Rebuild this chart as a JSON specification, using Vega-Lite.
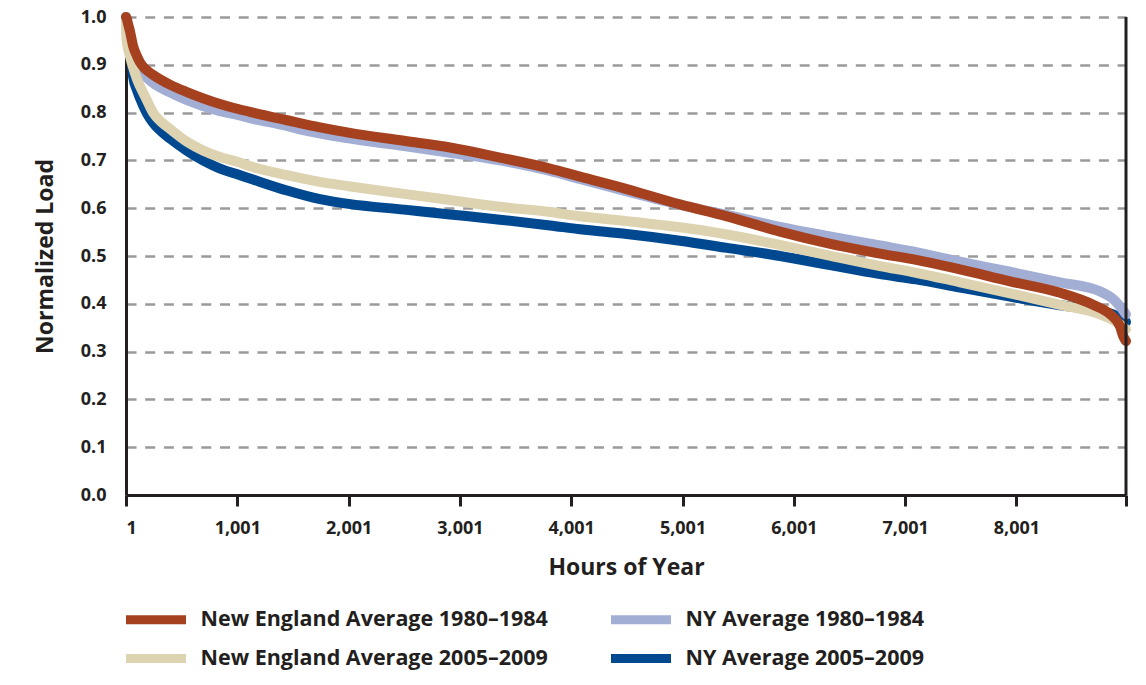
{
  "$schema": "https://vega.github.io/schema/vega-lite/v6.json",
  "autosize": {"type": "none"},
  "width": 1000,
  "height": 478,
  "padding": {"left": 126, "top": 17, "right": 20, "bottom": 190},
  "background": "white",
  "config": {
    "font": "Open Sans",
    "view": {"stroke": null},
    "axis": {"labelColor": "#231f20", "titleColor": "#231f20", "labelFont": "Open Sans", "titleFont": "Open Sans", "labelFontWeight": "bold", "titleFontWeight": "bold"}
  },
  "datasets": {
    "curves": [
      {"series": "NY Average 2005–2009", "hour": 1, "load": 1.0},
      {"series": "NY Average 2005–2009", "hour": 20, "load": 0.975},
      {"series": "NY Average 2005–2009", "hour": 40, "load": 0.94},
      {"series": "NY Average 2005–2009", "hour": 55, "load": 0.9},
      {"series": "NY Average 2005–2009", "hour": 64, "load": 0.876},
      {"series": "NY Average 2005–2009", "hour": 100, "load": 0.847},
      {"series": "NY Average 2005–2009", "hour": 127, "load": 0.83},
      {"series": "NY Average 2005–2009", "hour": 190, "load": 0.798},
      {"series": "NY Average 2005–2009", "hour": 244, "load": 0.779},
      {"series": "NY Average 2005–2009", "hour": 320, "load": 0.76},
      {"series": "NY Average 2005–2009", "hour": 400, "load": 0.745},
      {"series": "NY Average 2005–2009", "hour": 549, "load": 0.72},
      {"series": "NY Average 2005–2009", "hour": 700, "load": 0.699},
      {"series": "NY Average 2005–2009", "hour": 846, "load": 0.683},
      {"series": "NY Average 2005–2009", "hour": 1001, "load": 0.671},
      {"series": "NY Average 2005–2009", "hour": 1142, "load": 0.66},
      {"series": "NY Average 2005–2009", "hour": 1448, "load": 0.637},
      {"series": "NY Average 2005–2009", "hour": 1744, "load": 0.619},
      {"series": "NY Average 2005–2009", "hour": 2001, "load": 0.609},
      {"series": "NY Average 2005–2009", "hour": 2500, "load": 0.597},
      {"series": "NY Average 2005–2009", "hour": 2912, "load": 0.587},
      {"series": "NY Average 2005–2009", "hour": 3361, "load": 0.576},
      {"series": "NY Average 2005–2009", "hour": 3810, "load": 0.564},
      {"series": "NY Average 2005–2009", "hour": 4080, "load": 0.556},
      {"series": "NY Average 2005–2009", "hour": 4500, "load": 0.546},
      {"series": "NY Average 2005–2009", "hour": 4978, "load": 0.532},
      {"series": "NY Average 2005–2009", "hour": 5400, "load": 0.517},
      {"series": "NY Average 2005–2009", "hour": 5877, "load": 0.5},
      {"series": "NY Average 2005–2009", "hour": 6300, "load": 0.482},
      {"series": "NY Average 2005–2009", "hour": 6775, "load": 0.462},
      {"series": "NY Average 2005–2009", "hour": 7100, "load": 0.451},
      {"series": "NY Average 2005–2009", "hour": 7494, "load": 0.434},
      {"series": "NY Average 2005–2009", "hour": 7943, "load": 0.415},
      {"series": "NY Average 2005–2009", "hour": 8393, "load": 0.397},
      {"series": "NY Average 2005–2009", "hour": 8700, "load": 0.387},
      {"series": "NY Average 2005–2009", "hour": 8869, "load": 0.378},
      {"series": "NY Average 2005–2009", "hour": 8940, "load": 0.37},
      {"series": "NY Average 2005–2009", "hour": 8985, "load": 0.362},

      {"series": "NY Average 1980–1984", "hour": 1, "load": 1.0},
      {"series": "NY Average 1980–1984", "hour": 10, "load": 0.98},
      {"series": "NY Average 1980–1984", "hour": 30, "load": 0.945},
      {"series": "NY Average 1980–1984", "hour": 64, "load": 0.915},
      {"series": "NY Average 1980–1984", "hour": 110, "load": 0.895},
      {"series": "NY Average 1980–1984", "hour": 244, "load": 0.862},
      {"series": "NY Average 1980–1984", "hour": 400, "load": 0.842},
      {"series": "NY Average 1980–1984", "hour": 549, "load": 0.826},
      {"series": "NY Average 1980–1984", "hour": 846, "load": 0.803},
      {"series": "NY Average 1980–1984", "hour": 1001, "load": 0.795},
      {"series": "NY Average 1980–1984", "hour": 1142, "load": 0.787},
      {"series": "NY Average 1980–1984", "hour": 1448, "load": 0.772},
      {"series": "NY Average 1980–1984", "hour": 1564, "load": 0.765},
      {"series": "NY Average 1980–1984", "hour": 2001, "load": 0.746},
      {"series": "NY Average 1980–1984", "hour": 2500, "load": 0.73},
      {"series": "NY Average 1980–1984", "hour": 2912, "load": 0.716},
      {"series": "NY Average 1980–1984", "hour": 3361, "load": 0.7},
      {"series": "NY Average 1980–1984", "hour": 3810, "load": 0.678},
      {"series": "NY Average 1980–1984", "hour": 4080, "load": 0.661},
      {"series": "NY Average 1980–1984", "hour": 4500, "load": 0.635},
      {"series": "NY Average 1980–1984", "hour": 4978, "load": 0.607},
      {"series": "NY Average 1980–1984", "hour": 5400, "load": 0.586},
      {"series": "NY Average 1980–1984", "hour": 5877, "load": 0.561},
      {"series": "NY Average 1980–1984", "hour": 6300, "load": 0.542},
      {"series": "NY Average 1980–1984", "hour": 6775, "load": 0.522},
      {"series": "NY Average 1980–1984", "hour": 7100, "load": 0.508},
      {"series": "NY Average 1980–1984", "hour": 7494, "load": 0.488},
      {"series": "NY Average 1980–1984", "hour": 7943, "load": 0.467},
      {"series": "NY Average 1980–1984", "hour": 8393, "load": 0.445},
      {"series": "NY Average 1980–1984", "hour": 8752, "load": 0.426},
      {"series": "NY Average 1980–1984", "hour": 8869, "load": 0.41},
      {"series": "NY Average 1980–1984", "hour": 8930, "load": 0.395},
      {"series": "NY Average 1980–1984", "hour": 8985, "load": 0.378},

      {"series": "New England Average 2005–2009", "hour": 1, "load": 1.0},
      {"series": "New England Average 2005–2009", "hour": 3, "load": 0.965},
      {"series": "New England Average 2005–2009", "hour": 10, "load": 0.945},
      {"series": "New England Average 2005–2009", "hour": 20, "load": 0.933},
      {"series": "New England Average 2005–2009", "hour": 40, "load": 0.915},
      {"series": "New England Average 2005–2009", "hour": 64, "load": 0.895},
      {"series": "New England Average 2005–2009", "hour": 100, "load": 0.87},
      {"series": "New England Average 2005–2009", "hour": 127, "load": 0.855},
      {"series": "New England Average 2005–2009", "hour": 180, "load": 0.83},
      {"series": "New England Average 2005–2009", "hour": 244, "load": 0.8},
      {"series": "New England Average 2005–2009", "hour": 320, "load": 0.78},
      {"series": "New England Average 2005–2009", "hour": 400, "load": 0.765},
      {"series": "New England Average 2005–2009", "hour": 549, "load": 0.739},
      {"series": "New England Average 2005–2009", "hour": 700, "load": 0.72},
      {"series": "New England Average 2005–2009", "hour": 846, "load": 0.707},
      {"series": "New England Average 2005–2009", "hour": 1001, "load": 0.697},
      {"series": "New England Average 2005–2009", "hour": 1142, "load": 0.686},
      {"series": "New England Average 2005–2009", "hour": 1448, "load": 0.669},
      {"series": "New England Average 2005–2009", "hour": 1744, "load": 0.655},
      {"series": "New England Average 2005–2009", "hour": 2001, "load": 0.646},
      {"series": "New England Average 2005–2009", "hour": 2500, "load": 0.63},
      {"series": "New England Average 2005–2009", "hour": 2912, "load": 0.617},
      {"series": "New England Average 2005–2009", "hour": 3361, "load": 0.603},
      {"series": "New England Average 2005–2009", "hour": 3810, "load": 0.592},
      {"series": "New England Average 2005–2009", "hour": 4080, "load": 0.583},
      {"series": "New England Average 2005–2009", "hour": 4500, "load": 0.573},
      {"series": "New England Average 2005–2009", "hour": 4978, "load": 0.56},
      {"series": "New England Average 2005–2009", "hour": 5400, "load": 0.545},
      {"series": "New England Average 2005–2009", "hour": 5877, "load": 0.523},
      {"series": "New England Average 2005–2009", "hour": 6300, "load": 0.502},
      {"series": "New England Average 2005–2009", "hour": 6775, "load": 0.479},
      {"series": "New England Average 2005–2009", "hour": 7100, "load": 0.465},
      {"series": "New England Average 2005–2009", "hour": 7494, "load": 0.445},
      {"series": "New England Average 2005–2009", "hour": 7943, "load": 0.422},
      {"series": "New England Average 2005–2009", "hour": 8393, "load": 0.398},
      {"series": "New England Average 2005–2009", "hour": 8752, "load": 0.378},
      {"series": "New England Average 2005–2009", "hour": 8900, "load": 0.362},
      {"series": "New England Average 2005–2009", "hour": 8985, "load": 0.347},

      {"series": "New England Average 1980–1984", "hour": 1, "load": 1.0},
      {"series": "New England Average 1980–1984", "hour": 10, "load": 0.995},
      {"series": "New England Average 1980–1984", "hour": 20, "load": 0.985},
      {"series": "New England Average 1980–1984", "hour": 37, "load": 0.97},
      {"series": "New England Average 1980–1984", "hour": 64, "load": 0.94},
      {"series": "New England Average 1980–1984", "hour": 100, "load": 0.918},
      {"series": "New England Average 1980–1984", "hour": 127, "load": 0.905},
      {"series": "New England Average 1980–1984", "hour": 180, "load": 0.89},
      {"series": "New England Average 1980–1984", "hour": 244, "load": 0.879},
      {"series": "New England Average 1980–1984", "hour": 400, "load": 0.858},
      {"series": "New England Average 1980–1984", "hour": 549, "load": 0.843},
      {"series": "New England Average 1980–1984", "hour": 846, "load": 0.818},
      {"series": "New England Average 1980–1984", "hour": 1001, "load": 0.808},
      {"series": "New England Average 1980–1984", "hour": 1142, "load": 0.8},
      {"series": "New England Average 1980–1984", "hour": 1448, "load": 0.784},
      {"series": "New England Average 1980–1984", "hour": 1744, "load": 0.769},
      {"series": "New England Average 1980–1984", "hour": 2001, "load": 0.758},
      {"series": "New England Average 1980–1984", "hour": 2500, "load": 0.741},
      {"series": "New England Average 1980–1984", "hour": 2912, "load": 0.727},
      {"series": "New England Average 1980–1984", "hour": 3361, "load": 0.706},
      {"series": "New England Average 1980–1984", "hour": 3810, "load": 0.683},
      {"series": "New England Average 1980–1984", "hour": 4080, "load": 0.666},
      {"series": "New England Average 1980–1984", "hour": 4500, "load": 0.64},
      {"series": "New England Average 1980–1984", "hour": 4978, "load": 0.608},
      {"series": "New England Average 1980–1984", "hour": 5400, "load": 0.583},
      {"series": "New England Average 1980–1984", "hour": 5877, "load": 0.551},
      {"series": "New England Average 1980–1984", "hour": 6300, "load": 0.527},
      {"series": "New England Average 1980–1984", "hour": 6775, "load": 0.505},
      {"series": "New England Average 1980–1984", "hour": 7100, "load": 0.492},
      {"series": "New England Average 1980–1984", "hour": 7494, "load": 0.472},
      {"series": "New England Average 1980–1984", "hour": 7943, "load": 0.447},
      {"series": "New England Average 1980–1984", "hour": 8393, "load": 0.423},
      {"series": "New England Average 1980–1984", "hour": 8689, "load": 0.398},
      {"series": "New England Average 1980–1984", "hour": 8842, "load": 0.378},
      {"series": "New England Average 1980–1984", "hour": 8932, "load": 0.352},
      {"series": "New England Average 1980–1984", "hour": 8960, "load": 0.332},
      {"series": "New England Average 1980–1984", "hour": 8985, "load": 0.322}
    ]
  },
  "layer": [
    {
      "data": {"name": "curves"},
      "mark": {"type": "line", "strokeWidth": 10, "interpolate": "monotone", "strokeCap": "round", "strokeJoin": "round"},
      "encoding": {
        "x": {
          "field": "hour", "type": "quantitative",
          "scale": {"domain": [1, 8985], "nice": false, "zero": false},
          "axis": {
            "title": "Hours of Year",
            "values": [1, 1001, 2001, 3001, 4001, 5001, 6001, 7001, 8001, 8985],
            "labelExpr": "datum.value > 8500 ? '' : format(datum.value, ',')",
            "grid": false,
            "domainColor": "#231f20", "domainWidth": 3,
            "tickColor": "#231f20", "tickWidth": 3, "tickSize": 11,
            "labelFontSize": 18, "labelPadding": 13,
            "titleFontSize": 23, "titlePadding": 19
          }
        },
        "y": {
          "field": "load", "type": "quantitative",
          "scale": {"domain": [0, 1], "nice": false},
          "axis": {
            "title": "Normalized Load",
            "values": [0, 0.1, 0.2, 0.3, 0.4, 0.5, 0.6, 0.7, 0.8, 0.9, 1.0],
            "format": ".1f",
            "ticks": false,
            "domainColor": "#231f20", "domainWidth": 3,
            "grid": true, "gridColor": "#9a9a9c", "gridWidth": 2.5, "gridDash": [10, 8.7],
            "labelFontSize": 18, "labelPadding": 20,
            "titleFontSize": 23, "titlePadding": 23
          }
        },
        "color": {
          "field": "series", "type": "nominal",
          "scale": {
            "domain": ["New England Average 1980–1984", "NY Average 1980–1984", "New England Average 2005–2009", "NY Average 2005–2009"],
            "range": ["#a5411f", "#a3aed5", "#ddd3b1", "#004990"]
          },
          "legend": {
            "title": null,
            "orient": "none",
            "legendX": 15.5,
            "legendY": 588,
            "columns": 2,
            "direction": "horizontal",
            "symbolType": "M-3,0H3",
            "symbolStrokeWidth": 9,
            "symbolSize": 400,
            "labelFont": "Open Sans",
            "labelFontWeight": "bold",
            "labelFontSize": 21.5,
            "labelColor": "#231f20",
            "labelOffset": 30,
            "columnPadding": 44,
            "rowPadding": 2,
            "labelLimit": 0
          }
        }
      }
    },
    {
      "data": {"values": [{}]},
      "mark": {"type": "rule", "color": "#231f20", "strokeWidth": 3},
      "encoding": {"x": {"datum": 8985}}
    }
  ]
}
